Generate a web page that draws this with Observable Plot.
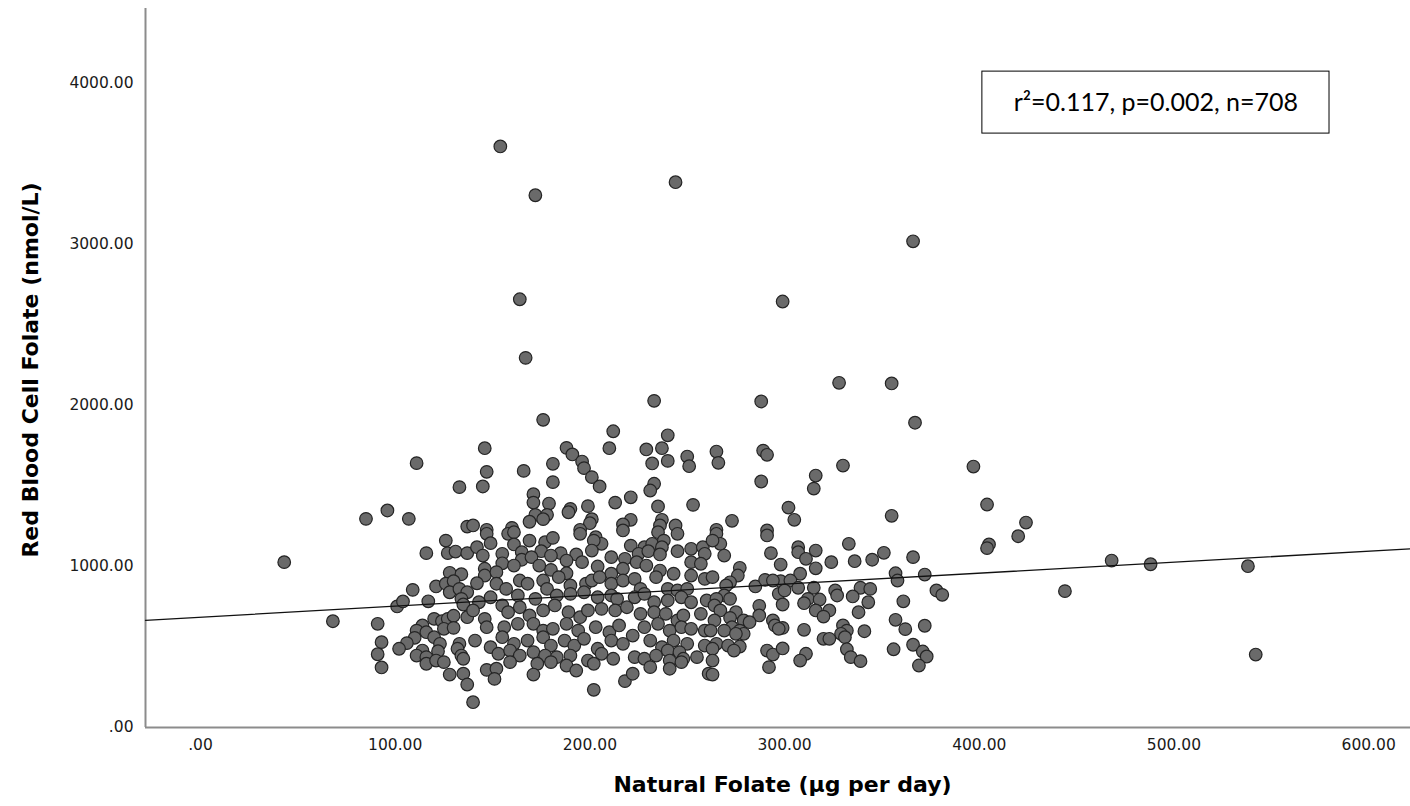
<!DOCTYPE html>
<html><head><meta charset="utf-8">
<script src="https://cdn.jsdelivr.net/npm/d3@7"></script>
<script src="https://cdn.jsdelivr.net/npm/@observablehq/plot@0.6"></script>
<style>body{margin:0;background:#fff}</style>
</head><body><div id="chart"></div>
<script>
// Natural folate (µg/day) vs red blood cell folate (nmol/L)
const folatePairs = [
[154,3609],[172,3306],[244,3387],[366,3020],[299,2646],[164,2660],
[111,1642],[133,1493],[96,1348],[85,1296],[107,1296],[137,1248],
[167,2296],[176,1911],[233,2029],[212,1840],[240,1815],[146,1735],[188,1737],[191,1696],[210,1735],[229,1727],[237,1735],[250,1683],[251,1623],[196,1652],[197,1611],[232,1640],[240,1656],[181,1638],[147,1588],[166,1594],[201,1555],[205,1497],[181,1524],[145,1497],[233,1514],[231,1472],[171,1449],[171,1397],[179,1391],[199,1375],[213,1397],[221,1430],[235,1373],[253,1383],[190,1358],[189,1337],[172,1321],[178,1321],[176,1294],[169,1278],[201,1294],[200,1269],[221,1290],[217,1261],[237,1290],[236,1255],[244,1255],[140,1255],[160,1240],[147,1228],[195,1228],
[328,2141],[355,2137],[367,1893],[288,2025],[265,1714],[266,1644],[289,1720],[291,1694],[288,1528],[330,1627],[316,1565],[315,1484],[302,1366],[305,1290],[273,1284],[355,1315],[265,1228],[291,1224],
[43,1027],[68,660],[91,644],[93,530],[91,455],[93,373],[101,752],[104,783],[109,855],[117,784],[116,1083],[126,1161],[127,1083],[131,1093],[137,1083],[128,961],[134,952],[121,876],[126,893],[130,909],[128,840],[133,861],[137,840],[134,799],[135,764],[120,675],[124,660],[127,675],[130,694],[137,685],[125,613],[130,619],[114,634],[111,602],[116,592],[110,557],[106,524],[102,489],[120,561],[123,520],[114,478],[111,447],[116,437],[122,474],[116,396],[121,416],[125,406],[133,520],[132,489],[134,447],[135,427],[135,334],[128,329],[137,267],[140,157],
[147,1203],[158,1203],[161,1213],[195,1203],[203,1182],[217,1224],[245,1203],[235,1213],
[149,1145],[142,1120],[161,1137],[169,1161],[177,1151],[181,1178],[206,1141],[202,1161],[221,1130],[228,1120],[232,1141],[238,1161],[237,1120],[252,1110],[258,1120],[245,1095],
[145,1068],[155,1079],[165,1089],[175,1095],[185,1083],[193,1075],[201,1099],[211,1058],[225,1079],[230,1095],[236,1075],[259,1079],[165,1042],[170,1058],[180,1068],[188,1037],[196,1027],[218,1048],[224,1027],
[155,1020],[161,1006],[146,986],[180,979],[188,958],[174,1006],[204,1000],[211,955],[217,986],[229,1006],[236,975],[243,955],[252,1027],[257,1017],[146,944],[152,965],
[142,896],[152,893],[157,861],[164,913],[168,893],[176,913],[178,861],[184,934],[190,882],[198,893],[201,913],[205,934],[211,893],[217,913],[223,923],[226,861],[234,934],[240,861],[245,851],[252,944],[259,923],[250,861],
[143,778],[149,809],[155,758],[163,820],[172,799],[183,820],[190,830],[197,840],[204,809],[211,820],[214,799],[223,809],[228,830],[233,778],[240,789],[247,809],[252,778],[260,789],
[146,675],[158,716],[164,747],[169,696],[176,727],[182,758],[189,716],[195,685],[199,727],[206,737],[213,727],[219,747],[226,706],[233,716],[239,706],[245,665],[248,696],[257,706],[140,727],
[141,540],[147,623],[156,623],[163,644],[171,644],[176,602],[181,613],[188,644],[194,602],[203,623],[210,592],[215,634],[222,571],[228,623],[235,644],[241,602],[247,623],[252,613],[259,602],
[155,561],[161,520],[168,540],[176,561],[180,509],[187,540],[192,509],[197,551],[204,489],[211,540],[217,520],[231,540],[237,499],[243,540],[250,520],[259,509],[149,499],
[153,458],[159,478],[164,447],[171,468],[177,447],[183,437],[190,447],[199,416],[206,458],[212,427],[223,437],[228,427],[234,447],[240,478],[246,468],[248,427],[255,437],[173,396],[180,406],[159,406],
[147,358],[152,365],[151,302],[171,329],[188,385],[193,354],[202,396],[218,288],[222,334],[231,375],[241,416],[241,365],[247,406],[202,234],[261,334],
[291,1193],[265,1203],[267,1141],[263,1161],[269,1068],[293,1083],[307,1120],[307,1089],[311,1048],[316,1099],[298,1012],[316,989],[308,955],[324,1027],[333,1141],[336,1033],[345,1042],[351,1085],[366,1058],[357,958],[358,913],[372,950],[378,851],[381,824],[277,992],[276,944],[272,902],[270,882],[263,934],[285,876],[290,917],[298,909],[303,913],[294,913],[307,868],[315,868],[326,851],[327,820],[339,868],[344,861],[335,814],[297,830],[300,851],[269,820],[265,799],[272,799],[264,758],[267,727],[299,764],[312,799],[310,772],[318,795],[343,778],[287,756],[287,696],[316,727],[323,727],[320,689],[338,716],[361,784],[275,716],[272,681],[279,665],[282,654],[264,665],[262,602],[294,665],[295,634],[299,619],[297,613],[273,623],[269,602],[277,602],[279,582],[275,582],[310,607],[330,634],[332,602],[329,582],[331,561],[320,551],[323,551],[341,598],[357,669],[362,611],[372,632],[265,520],[271,509],[277,503],[274,478],[263,489],[291,478],[294,453],[299,491],[311,458],[308,416],[332,486],[334,437],[339,412],[356,486],[366,514],[371,472],[373,441],[369,385],[292,375],[263,416],[263,329],
[397,1621],[404,1385],[424,1273],[420,1188],[405,1137],[404,1114],[468,1037],[488,1014],[538,1002],[444,847],[542,453]
];
const xTicks = [0, 100, 200, 300, 400, 500, 600];
const yTicks = [0, 1000, 2000, 3000, 4000];
const xDomain = [-28.25, 621.5];
const yDomain = [0, 4466];
const fit = {intercept: 685, slope: 0.684};
const xTitle = "Natural Folate (µg per day)";
const yTitle = "Red Blood Cell Folate (nmol/L)";
const annotation = {text: "r²=0.117, p=0.002, n=708", x: 490.7, y: 3882, x1: 401.6, x2: 579.9, y1: 3689, y2: 4074};

const pts = folatePairs.map(([x, y]) => ({x, y}));
const lineData = xDomain.map(x => ({x, y: fit.intercept + fit.slope * x}));
const fmt = v => v === 0 ? ".00" : v.toFixed(2);
const wideSans = "'DejaVu Sans', Verdana, sans-serif";

const chart = Plot.plot({
  width: 1410, height: 806,
  marginLeft: 145, marginRight: 0, marginTop: 8, marginBottom: 79,
  style: {fontFamily: wideSans, background: "#fff", color: "#1a1a1a"},
  x: {domain: xDomain},
  y: {domain: yDomain},
  marks: [
    Plot.axisX({ticks: xTicks, tickFormat: fmt, tickSize: 0, tickPadding: 11, fontSize: 15.5, label: null}),
    Plot.axisY({ticks: yTicks, tickFormat: fmt, tickSize: 0, tickPadding: 12, fontSize: 15.5, label: null}),
    Plot.ruleY([yDomain[0]], {stroke: "#8c8c8c", strokeWidth: 2}),
    Plot.ruleX([xDomain[0]], {stroke: "#8c8c8c", strokeWidth: 2}),
    Plot.dot(pts, {x: "x", y: "y", r: 6.3, fill: "#6a6a6a", stroke: "#242424", strokeWidth: 1.2}),
    Plot.line(lineData, {x: "x", y: "y", stroke: "#111", strokeWidth: 1.3}),
    Plot.rect([annotation], {x1: "x1", x2: "x2", y1: "y1", y2: "y2", fill: "white", stroke: "black", strokeWidth: 1}),
    Plot.text([annotation], {x: "x", y: "y", text: "text", fontSize: 25, fontFamily: "Lato, 'Open Sans', sans-serif", fill: "black"}),
    Plot.text([yTitle], {frameAnchor: "left", dx: -115, dy: 2, rotate: -90, textAnchor: "middle", text: d => d, fontSize: 22, fontWeight: "bold", fill: "black"}),
    Plot.text([xTitle], {frameAnchor: "bottom", dx: 4.5, dy: 64, textAnchor: "middle", text: d => d, fontSize: 22, fontWeight: "bold", fill: "black"})
  ]
});
document.getElementById("chart").append(chart);
</script>
</body></html>
